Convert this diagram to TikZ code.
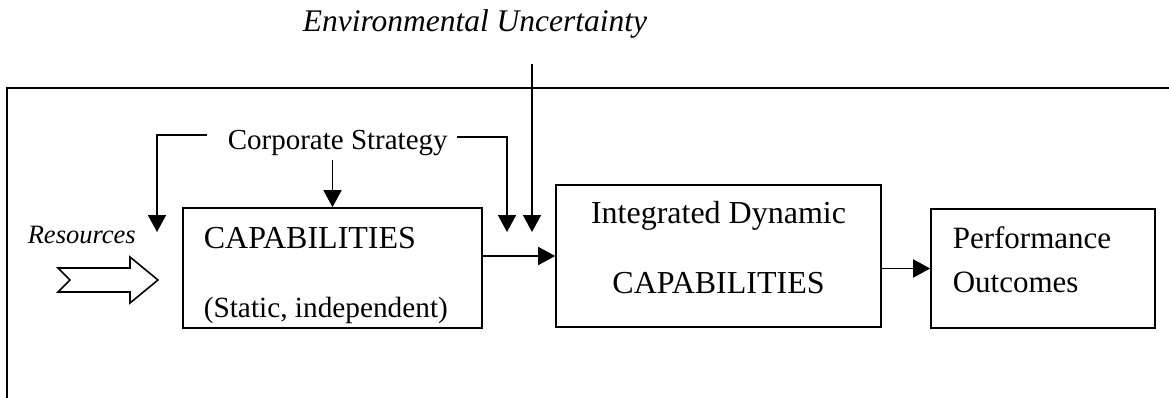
\documentclass[tikz,border=0pt]{standalone}
\usepackage{fontspec}
\setmainfont{Liberation Serif}
\usetikzlibrary{arrows.meta,positioning,calc}

\begin{document}
\begin{tikzpicture}[x=1pt, y=-1pt, line width=1.6pt,
    arr/.style={-{Triangle[length=17pt, width=18pt]}},
    box/.style={draw, inner sep=0pt},
    txt/.style={inner sep=0pt, anchor=base west, font=\fontsize{32}{36}\selectfont}]

    \useasboundingbox (0,0) rectangle (1169,398);

    % open frame
    \draw (7,398) -- (7,88) -- (1169,88);

    \node[box, minimum width=299pt, minimum height=120pt] at (332.5,268) (cap) {};
    \node[box, minimum width=325pt, minimum height=142pt] at (718.5,256) (integ) {};
    \node[box, minimum width=224pt, minimum height=119pt] at (1043,268.5) (perf) {};

    \node[txt] at (203,248) (capA) {CAPABILITIES};
    \node[txt, font=\fontsize{29.3}{34}\selectfont] at (203,317) (capB) {(Static, independent)};
    \node[txt, anchor=base] at (718.5,223) (integA) {Integrated Dynamic};
    \node[txt, anchor=base] at (718.5,293) (integB) {CAPABILITIES};
    \node[txt, font=\fontsize{31}{36}\selectfont] at (952,248) (perfA) {Performance};
    \node[txt, font=\fontsize{31}{36}\selectfont] at (952,292) (perfB) {Outcomes};

    \node[txt, font=\fontsize{31.5}{36}\itshape] at (302,32) (env) {Environmental Uncertainty};
    \node[txt, font=\fontsize{26.5}{30}\itshape] at (27,243) (res) {Resources};
    \node[txt, inner sep=3pt, font=\fontsize{29}{34}\selectfont] at (224,150) (cs) {Corporate Strategy};

    \coordinate (csL) at (207,135);
    \coordinate (tipL) at (157,232);
    \coordinate (csR) at (457,137);
    \coordinate (tipR) at (507,232);
    \coordinate (envTop) at (532,64);
    \coordinate (envTip) at (532,232);

    % resources arrow
    \draw[fill=white] (58,268) -- (130,268) -- (130,257) -- (158,280) -- (130,303)
        -- (130,292) -- (58,292) -- (70,280) -- cycle;

    \draw[arr] (csL) -| (tipL);
    \draw[arr] (csR) -| (tipR);
    \draw[arr] (cs.south -| cap.north) -- (cap.north);
    \draw[arr] (envTop) -- (envTip);

    \foreach \from/\to in {cap/integ, integ/perf}
    \draw[arr] (\from.east |- \to.west) -- (\to.west);

\end{tikzpicture}
\end{document}
